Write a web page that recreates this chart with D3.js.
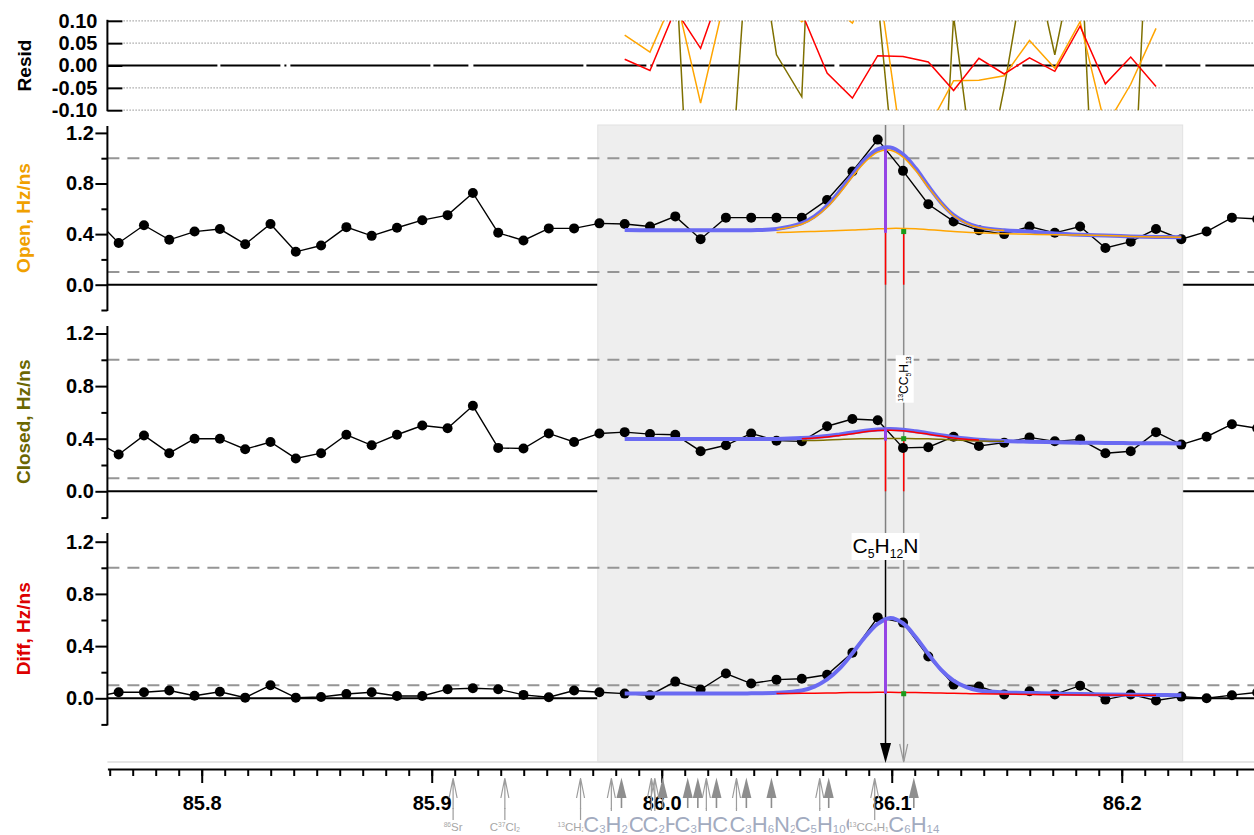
<!DOCTYPE html>
<html>
<head>
<meta charset="utf-8">
<script src="https://cdn.jsdelivr.net/npm/d3@7/dist/d3.min.js"></script>
<style>
html,body{margin:0;padding:0;background:#fff;}
svg{display:block;}
</style>
</head>
<body>
<svg id="chart" width="1254" height="835"></svg>
<script>
// ======================= DATA =======================
const mz = [85.7529,85.7639,85.7749,85.7859,85.7969,85.8079,85.8189,85.8299,85.8409,85.8519,
85.8629,85.8739,85.8849,85.8959,85.9069,85.9179,85.9289,85.9399,85.9509,85.9619,
85.9729,85.9839,85.9949,86.0059,86.0169,86.0279,86.0389,86.0499,86.0609,86.0719,
86.0829,86.0939,86.1049,86.1159,86.1269,86.1379,86.1489,86.1599,86.1709,86.1819,
86.1929,86.2039,86.2149,86.2259,86.2369,86.2479,86.2589];

const openVals = [0.535,0.33,0.47,0.355,0.42,0.44,0.32,0.48,0.26,0.31,
0.455,0.386,0.45,0.51,0.55,0.725,0.41,0.35,0.445,0.445,
0.485,0.48,0.46,0.54,0.36,0.53,0.53,0.53,0.53,0.67,
0.895,1.147,0.90,0.636,0.50,0.43,0.40,0.46,0.41,0.46,
0.29,0.34,0.44,0.36,0.42,0.53,0.52];

const closedVals = [0.39,0.28,0.425,0.29,0.40,0.40,0.32,0.375,0.25,0.29,
0.43,0.35,0.43,0.50,0.48,0.65,0.33,0.325,0.44,0.375,
0.44,0.45,0.435,0.43,0.305,0.35,0.44,0.385,0.38,0.495,
0.55,0.54,0.33,0.335,0.415,0.345,0.37,0.41,0.38,0.395,
0.29,0.305,0.45,0.355,0.415,0.51,0.48];

const diffVals = [0.01,0.046,0.046,0.06,0.02,0.05,0.005,0.10,0.005,0.01,
0.033,0.046,0.018,0.018,0.07,0.077,0.07,0.026,0.008,0.06,
0.046,0.036,0.024,0.128,0.067,0.19,0.113,0.143,0.15,0.18,
0.35,0.62,0.58,0.32,0.105,0.09,0.03,0.054,0.03,0.097,
-0.01,0.03,-0.017,0.013,0.0,0.024,0.045];

const fitMz = [85.9839,85.9949,86.0059,86.0169,86.0279,86.0389,86.0499,86.0609,86.0664,86.0719,
86.0774,86.0829,86.0884,86.0939,86.0994,86.1049,86.1104,86.1159,86.1214,86.1269,
86.1324,86.1379,86.1489,86.1599,86.1709,86.1819,86.1929,86.2039,86.2149,86.2259];

const openFit = [0.432,0.431,0.430,0.430,0.430,0.431,0.440,0.486,0.540,0.625,
0.740,0.870,0.990,1.070,1.085,1.030,0.920,0.780,0.650,0.550,
0.490,0.455,0.430,0.420,0.405,0.395,0.388,0.382,0.378,0.375];
const openPeakComp = [null,null,null,null,null,null,0.436,0.478,0.530,0.612,
0.725,0.853,0.970,1.048,1.062,1.008,0.902,0.770,0.645,0.545,
0.485,0.450,0.428,null,null,null,null,null,null,null];
const openIsoComp = [null,null,null,null,null,null,0.412,0.418,0.421,0.425,
0.428,0.432,0.437,0.442,0.445,0.445,0.443,0.435,0.428,0.420,
0.415,0.410,0.403,0.398,0.395,0.393,0.388,0.382,0.378,0.375];

const closedFit = [0.397,0.397,0.397,0.397,0.397,0.397,0.398,0.405,0.411,0.420,
0.433,0.447,0.461,0.470,0.473,0.468,0.456,0.442,0.427,0.413,
0.401,0.392,0.382,0.377,0.373,0.370,0.368,0.366,0.365,0.364];
const closedPeakComp = [null,null,null,null,null,null,null,0.400,0.405,0.413,
0.425,0.438,0.452,0.462,0.465,0.460,0.448,0.434,0.420,0.406,
0.396,0.390,null,null,null,null,null,null,null,null];
const closedIsoComp = [null,null,null,null,null,null,null,0.385,0.387,0.390,
0.394,0.398,0.399,0.400,0.401,0.401,0.400,0.399,0.395,0.390,
0.386,0.383,0.380,null,null,null,null,null,null,null];

const diffFit = [0.036,0.036,0.036,0.036,0.037,0.038,0.042,0.060,0.090,0.145,
0.230,0.345,0.470,0.570,0.615,0.575,0.470,0.340,0.220,0.135,
0.085,0.060,0.045,0.040,0.037,0.033,0.030,0.028,0.026,0.024];
const diffIsoComp = [null,null,null,null,null,null,0.037,0.038,0.039,0.040,
0.042,0.044,0.045,0.046,0.046,0.045,0.044,0.042,0.040,0.038,
0.036,0.035,0.032,0.030,0.028,0.026,0.025,0.024,0.023,null];

const residMz = [85.9839,85.9949,86.0059,86.0169,86.0279,86.0389,86.0499,86.0609,86.0719,86.0829,86.0939,
86.1049,86.1159,86.1269,86.1379,86.1489,86.1599,86.1709,86.1819,86.1929,86.2039,86.2149];
const residOpen = [0.068,0.030,0.160,-0.084,0.160,0.200,0.150,0.098,0.140,0.095,0.200,
-0.200,-0.139,-0.034,-0.033,-0.023,0.056,-0.006,0.098,-0.138,-0.042,0.083];
const residClosed = [0.60,0.50,0.25,-0.86,-0.43,0.39,0.024,-0.07,1.20,0.70,0.15,
-0.44,-0.89,0.11,-0.33,-0.05,0.28,0.024,0.30,-0.89,-0.46,0.74];
const residDiff = [0.014,-0.011,0.125,0.0385,0.200,0.130,0.140,0.118,-0.017,-0.073,0.022,
0.020,0.008,-0.056,0.016,-0.019,0.017,-0.013,0.088,-0.041,0.019,-0.047];

const fitRegion = [85.9722, 86.2265];
const peakMz = [86.0973, 86.1052];
const peakLabels = ["C5H12N", "^13CC5H13"];
const redStickOpen = [0.41, 0.42];
const redStickClosed = [0.40, 0.39];
const purpleStick = { open: [0.41, 1.073], closed: [0.385, 0.48], diff: [0.035, 0.60] };
const isoMarker = { open: 0.42, closed: 0.40, diff: 0.035 };

const candMz = [85.9093,85.9318,85.9647,85.9781,85.9825,85.9955,85.9970,86.0004,86.0113,86.0157,
86.0194,86.0238,86.0325,86.0368,86.0477,86.0687,86.0726,86.0926,86.1096];
const candLabel = ["^86Sr","C^37Cl2","^13CH2^35Cl","^13CHCl2","C3H2OS","CH2O4","C2H2S2","C3H2O3","C2H2N2O2","CO3",
"CH2N4O","C3H4NO2","C2H4N2O2","C4H6O2","C3H6N2O","C3H8NO2","C5H10O","^13CC4H11N","C6H14"];
const candKind = ["thin","thin","thin","thin","filled","thin","thin","filled","filled","filled",
"thin","filled","thin","filled","filled","thin","filled","thin","filled"];

const xMajorTicks = [85.8, 85.9, 86.0, 86.1, 86.2];
const yMajorTicks = [1.2, 0.8, 0.4, 0.0];
const yMinorTicks = [1.0, 0.6, 0.2, -0.2];
const residTicks = [0.10, 0.05, 0.00, -0.05, -0.10];
const refLevels = [1.0, 0.1];

// ======================= LAYOUT =======================
const FONT = "'Liberation Sans', Arial, Helvetica, sans-serif";
const XL = 107.4, XR = 1254;
const ORANGE = "#ffa500", RED = "#ff0000", OLIVE = "#7f7000", BLUE = "#6a6af2", PURPLE = "#9545e5";

const svg = d3.select("#chart").attr("font-family", FONT);
const x = d3.scaleLinear().domain([85.759, 86.2575]).range([XL, XR]);

const yResid = d3.scaleLinear().domain([-0.1, 0.1]).range([110.2, 20.8]);
const panels = [
  { key: "open", y: d3.scaleLinear().domain([-0.2, 1.2]).range([310, 132.9]), top: 126,
    vals: openVals, fit: openFit, comps: [[openPeakComp, ORANGE], [openIsoComp, ORANGE]],
    title: "Open, Hz/ns", tcolor: "#f0a000", sticks: redStickOpen },
  { key: "closed", y: d3.scaleLinear().domain([-0.2, 1.2]).range([517.6, 333.5]), top: 326,
    vals: closedVals, fit: closedFit, comps: [[closedIsoComp, OLIVE], [closedPeakComp, RED]],
    title: "Closed, Hz/ns", tcolor: "#6b6600", sticks: redStickClosed },
  { key: "diff", y: d3.scaleLinear().domain([-0.2, 1.2]).range([724.4, 541.7]), top: 533,
    vals: diffVals, fit: diffFit, comps: [[diffIsoComp, RED]],
    title: "Diff, Hz/ns", tcolor: "#dd0000", sticks: null }
];

const defs = svg.append("defs");
defs.append("clipPath").attr("id", "plotClip").append("rect")
  .attr("x", XL).attr("y", 0).attr("width", XR - XL).attr("height", 835);
defs.append("clipPath").attr("id", "residClip").append("rect")
  .attr("x", XL).attr("y", yResid(0.1)).attr("width", XR - XL).attr("height", yResid(-0.1) - yResid(0.1));

// zero lines (partly hidden by the fit-region shading)
panels.forEach(p => {
  svg.append("line").attr("x1", XL).attr("x2", XR).attr("y1", p.y(0)).attr("y2", p.y(0))
    .attr("stroke", "#000").attr("stroke-width", 2);
});

// fit region shading
svg.append("rect").attr("x", x(fitRegion[0])).attr("y", 125)
  .attr("width", x(fitRegion[1]) - x(fitRegion[0])).attr("height", 762 - 125)
  .attr("fill", "#eeeeee").attr("stroke", "#e2e2e2").attr("stroke-width", 1);
svg.append("line").attr("x1", XL).attr("x2", XR).attr("y1", 762).attr("y2", 762)
  .attr("stroke", "#dcdcdc").attr("stroke-width", 1.5);

// dashed reference levels
panels.forEach(p => {
  refLevels.forEach(v => {
    svg.append("line").attr("x1", XL).attr("x2", XR).attr("y1", p.y(v)).attr("y2", p.y(v))
      .attr("stroke", "#959595").attr("stroke-width", 2).attr("stroke-dasharray", "12,8");
  });
});

// peak annotation vertical lines
const xMain = x(peakMz[0]), xIso = x(peakMz[1]);
svg.append("line").attr("x1", xMain).attr("x2", xMain).attr("y1", 125).attr("y2", 533)
  .attr("stroke", "#808080").attr("stroke-width", 1.5);
svg.append("line").attr("x1", xMain).attr("x2", xMain).attr("y1", 533).attr("y2", 745)
  .attr("stroke", "#000").attr("stroke-width", 1.5);
svg.append("path").attr("d", `M${xMain},763 L${xMain - 5.5},743 L${xMain + 5.5},743 Z`).attr("fill", "#000");
svg.append("line").attr("x1", xIso).attr("x2", xIso).attr("y1", 125).attr("y2", 761)
  .attr("stroke", "#8c8c8c").attr("stroke-width", 1.5);
svg.append("path").attr("d", `M${xIso - 4},744 L${xIso},762 L${xIso + 4},744`)
  .attr("fill", "none").attr("stroke", "#9a9a9a").attr("stroke-width", 1.2);

// panels content
panels.forEach(p => {
  const g = svg.append("g").attr("clip-path", "url(#plotClip)");
  if (p.sticks) {
    p.sticks.forEach((v, k) => {
      g.append("line").attr("x1", x(peakMz[k])).attr("x2", x(peakMz[k]))
        .attr("y1", p.y(0)).attr("y2", p.y(v)).attr("stroke", RED).attr("stroke-width", 1.5);
    });
  }
  const pts = mz.map((m, i) => [m, p.vals[i]]);
  g.append("path").datum(pts)
    .attr("d", d3.line().x(d => x(d[0])).y(d => p.y(d[1])))
    .attr("fill", "none").attr("stroke", "#000").attr("stroke-width", 1.4);
  g.selectAll("circle.pt").data(pts).enter().append("circle")
    .attr("cx", d => x(d[0])).attr("cy", d => p.y(d[1])).attr("r", 5).attr("fill", "#000");
  const fl = d3.line().defined(d => d[1] != null).curve(d3.curveCatmullRom.alpha(0.5))
    .x(d => x(d[0])).y(d => p.y(d[1]));
  g.append("path").datum(fitMz.map((m, i) => [m, p.fit[i]])).attr("d", fl)
    .attr("fill", "none").attr("stroke", BLUE).attr("stroke-width", 4).attr("stroke-linejoin", "round");
  p.comps.forEach(([arr, col]) => {
    g.append("path").datum(fitMz.map((m, i) => [m, arr[i]])).attr("d", fl)
      .attr("fill", "none").attr("stroke", col).attr("stroke-width", 1.5);
  });
  const ps = purpleStick[p.key];
  g.append("line").attr("x1", xMain).attr("x2", xMain).attr("y1", p.y(ps[0])).attr("y2", p.y(ps[1]))
    .attr("stroke", PURPLE).attr("stroke-width", 3);
  g.append("rect").attr("x", xIso - 2.5).attr("y", p.y(isoMarker[p.key]) - 2.5)
    .attr("width", 5).attr("height", 5).attr("fill", "#1a9a1a");

  const ga = svg.append("g").attr("transform", `translate(${XL},0)`);
  ga.call(d3.axisLeft(p.y).tickValues(yMajorTicks).tickSize(12).tickPadding(1.5).tickFormat(d => d.toFixed(1)));
  const gm = svg.append("g").attr("transform", `translate(${XL},0)`);
  gm.call(d3.axisLeft(p.y).tickValues(yMinorTicks).tickSize(6).tickFormat(""));
  [ga, gm].forEach(s => {
    s.select(".domain").remove();
    s.selectAll(".tick line").attr("stroke", "#000").attr("stroke-width", 2);
  });
  ga.selectAll(".tick text").attr("font-size", 20).attr("font-weight", "bold")
    .attr("font-family", FONT).attr("fill", "#000");
  svg.append("line").attr("x1", XL).attr("x2", XL).attr("y1", p.top).attr("y2", p.y(-0.2) + 1)
    .attr("stroke", "#000").attr("stroke-width", 2);
  svg.append("text").attr("transform", `translate(30,${(p.top + p.y(-0.2)) / 2}) rotate(-90)`)
    .attr("text-anchor", "middle").attr("font-size", 19).attr("font-weight", "bold")
    .attr("fill", p.tcolor).text(p.title);
});

// ---------- Resid panel ----------
[0.10, 0.05, -0.05, -0.10].forEach(v => {
  svg.append("line").attr("x1", XL + 16).attr("x2", XR).attr("y1", yResid(v)).attr("y2", yResid(v))
    .attr("stroke", "#a8a8a8").attr("stroke-width", 1.2).attr("stroke-dasharray", "1.5,1.5");
});
svg.append("line").attr("x1", XL).attr("x2", XR).attr("y1", yResid(0)).attr("y2", yResid(0))
  .attr("stroke", "#000").attr("stroke-width", 2).attr("stroke-dasharray", "110,3,60,4,2,4,140,3,35,5");
const gr = svg.append("g").attr("clip-path", "url(#residClip)");
const rl = d3.line().x(d => x(d[0])).y(d => yResid(d[1]));
[[residClosed, OLIVE], [residOpen, ORANGE], [residDiff, RED]].forEach(([arr, col]) => {
  gr.append("path").datum(residMz.map((m, i) => [m, arr[i]])).attr("d", rl)
    .attr("fill", "none").attr("stroke", col).attr("stroke-width", 1.5);
});
const gra = svg.append("g").attr("transform", `translate(${XL},0)`);
gra.call(d3.axisLeft(yResid).tickValues(residTicks).tickSize(-15).tickPadding(10).tickFormat(d => d.toFixed(2)));
gra.select(".domain").remove();
gra.selectAll(".tick line").attr("stroke", "#000").attr("stroke-width", 2);
gra.selectAll(".tick text").attr("font-size", 20).attr("font-weight", "bold").attr("font-family", FONT).attr("fill", "#000");
svg.append("line").attr("x1", XL).attr("x2", XL).attr("y1", yResid(0.1) - 1).attr("y2", yResid(-0.1) + 1)
  .attr("stroke", "#000").attr("stroke-width", 2);
svg.append("text").attr("transform", `translate(31,${yResid(0)}) rotate(-90)`)
  .attr("text-anchor", "middle").attr("font-size", 19).attr("font-weight", "bold").attr("fill", "#000").text("Resid");

// ---------- X axis ----------
const gxMinor = svg.append("g").attr("transform", "translate(0,769)");
gxMinor.call(d3.axisBottom(x).tickValues(d3.range(0, 50).map(i => 85.76 + i * 0.01)).tickSize(7).tickFormat(""));
gxMinor.select(".domain").remove();
const gxMajor = svg.append("g").attr("transform", "translate(0,769)");
gxMajor.call(d3.axisBottom(x).tickValues(xMajorTicks).tickSize(14).tickSizeOuter(0).tickPadding(13).tickFormat(d => d.toFixed(1)));
gxMajor.select(".domain").attr("stroke-width", 2);
[gxMinor, gxMajor].forEach(s => s.selectAll(".tick line").attr("stroke", "#000").attr("stroke-width", 2));
gxMajor.selectAll(".tick text").attr("font-size", 20).attr("font-weight", "bold").attr("font-family", FONT).attr("fill", "#000");

// ---------- formula helper ----------
function formula(sel, str, fs, subShift, subScale) {
  const re = /\^(\d+)|(\d+)|([^\d^]+)/g;
  let m, cur = 0;
  while ((m = re.exec(str)) !== null) {
    let target, size, txt;
    if (m[1] !== undefined) { target = -0.38 * fs; size = 0.58 * fs; txt = m[1]; }
    else if (m[2] !== undefined) { target = subShift * fs; size = subScale * fs; txt = m[2]; }
    else { target = 0; size = fs; txt = m[3]; }
    sel.append("tspan").attr("dy", target - cur).attr("font-size", size).text(txt);
    cur = target;
  }
}

// ---------- candidate arrows ----------
const arrowLayer = svg.append("g");
candMz.forEach((m, i) => {
  const cx = x(m);
  if (candKind[i] === "thin") {
    arrowLayer.append("path")
      .attr("d", `M${cx},778 L${cx},809 M${cx - 4},798 L${cx},778 L${cx + 4},798`)
      .attr("fill", "none").attr("stroke", "#9c9c9c").attr("stroke-width", 1.2);
  } else {
    arrowLayer.append("path").attr("d", `M${cx},777.5 L${cx - 5},798 L${cx + 5},798 Z`).attr("fill", "#8e8e8e");
    arrowLayer.append("line").attr("x1", cx).attr("x2", cx).attr("y1", 797).attr("y2", 808)
      .attr("stroke", "#8e8e8e").attr("stroke-width", 1.6);
  }
});

// ---------- candidate labels (in m/z order, each on an opaque box) ----------
const labelLayer = svg.append("g");
candMz.forEach((m, i) => {
  const big = candKind[i] === "filled";
  const fs = big ? 22 : 11.5;
  const base = big ? 831.5 : 831;
  const cx = x(m);
  const g = labelLayer.append("g");
  const t = g.append("text").attr("x", cx).attr("y", base).attr("text-anchor", "middle")
    .attr("fill", big ? "#a2abbf" : "#a6a6a6").attr("font-size", fs);
  formula(t, candLabel[i], fs, big ? 0.08 : 0.12, big ? 0.52 : 0.58);
  const bb = t.node().getBBox();
  g.insert("rect", "text").attr("x", bb.x).attr("width", bb.width)
    .attr("y", 811).attr("height", 25).attr("fill", "#fff");
  if (!big) {
    g.append("line").attr("x1", cx).attr("x2", cx).attr("y1", 808).attr("y2", 820)
      .attr("stroke", "#9c9c9c").attr("stroke-width", 1.2);
  }
});

// ---------- peak labels ----------
{
  const g = svg.append("g");
  const t = g.append("text").attr("x", xMain).attr("y", 553).attr("text-anchor", "middle")
    .attr("fill", "#000").attr("font-size", 21);
  formula(t, peakLabels[0], 21, 0.24, 0.58);
  const bb = t.node().getBBox();
  g.insert("rect", "text").attr("x", bb.x - 1).attr("y", 533).attr("width", bb.width + 2).attr("height", 27).attr("fill", "#fff");
}
{
  const g = svg.append("g").attr("transform", `translate(${xIso},379) rotate(-90)`);
  const t = g.append("text").attr("x", 0).attr("y", 4).attr("text-anchor", "middle")
    .attr("fill", "#000").attr("font-size", 12);
  formula(t, peakLabels[1], 12, 0.24, 0.58);
  const bb = t.node().getBBox();
  g.insert("rect", "text").attr("x", bb.x - 1).attr("y", -8).attr("width", bb.width + 2).attr("height", 18).attr("fill", "#fff");
}
</script>
</body>
</html>
